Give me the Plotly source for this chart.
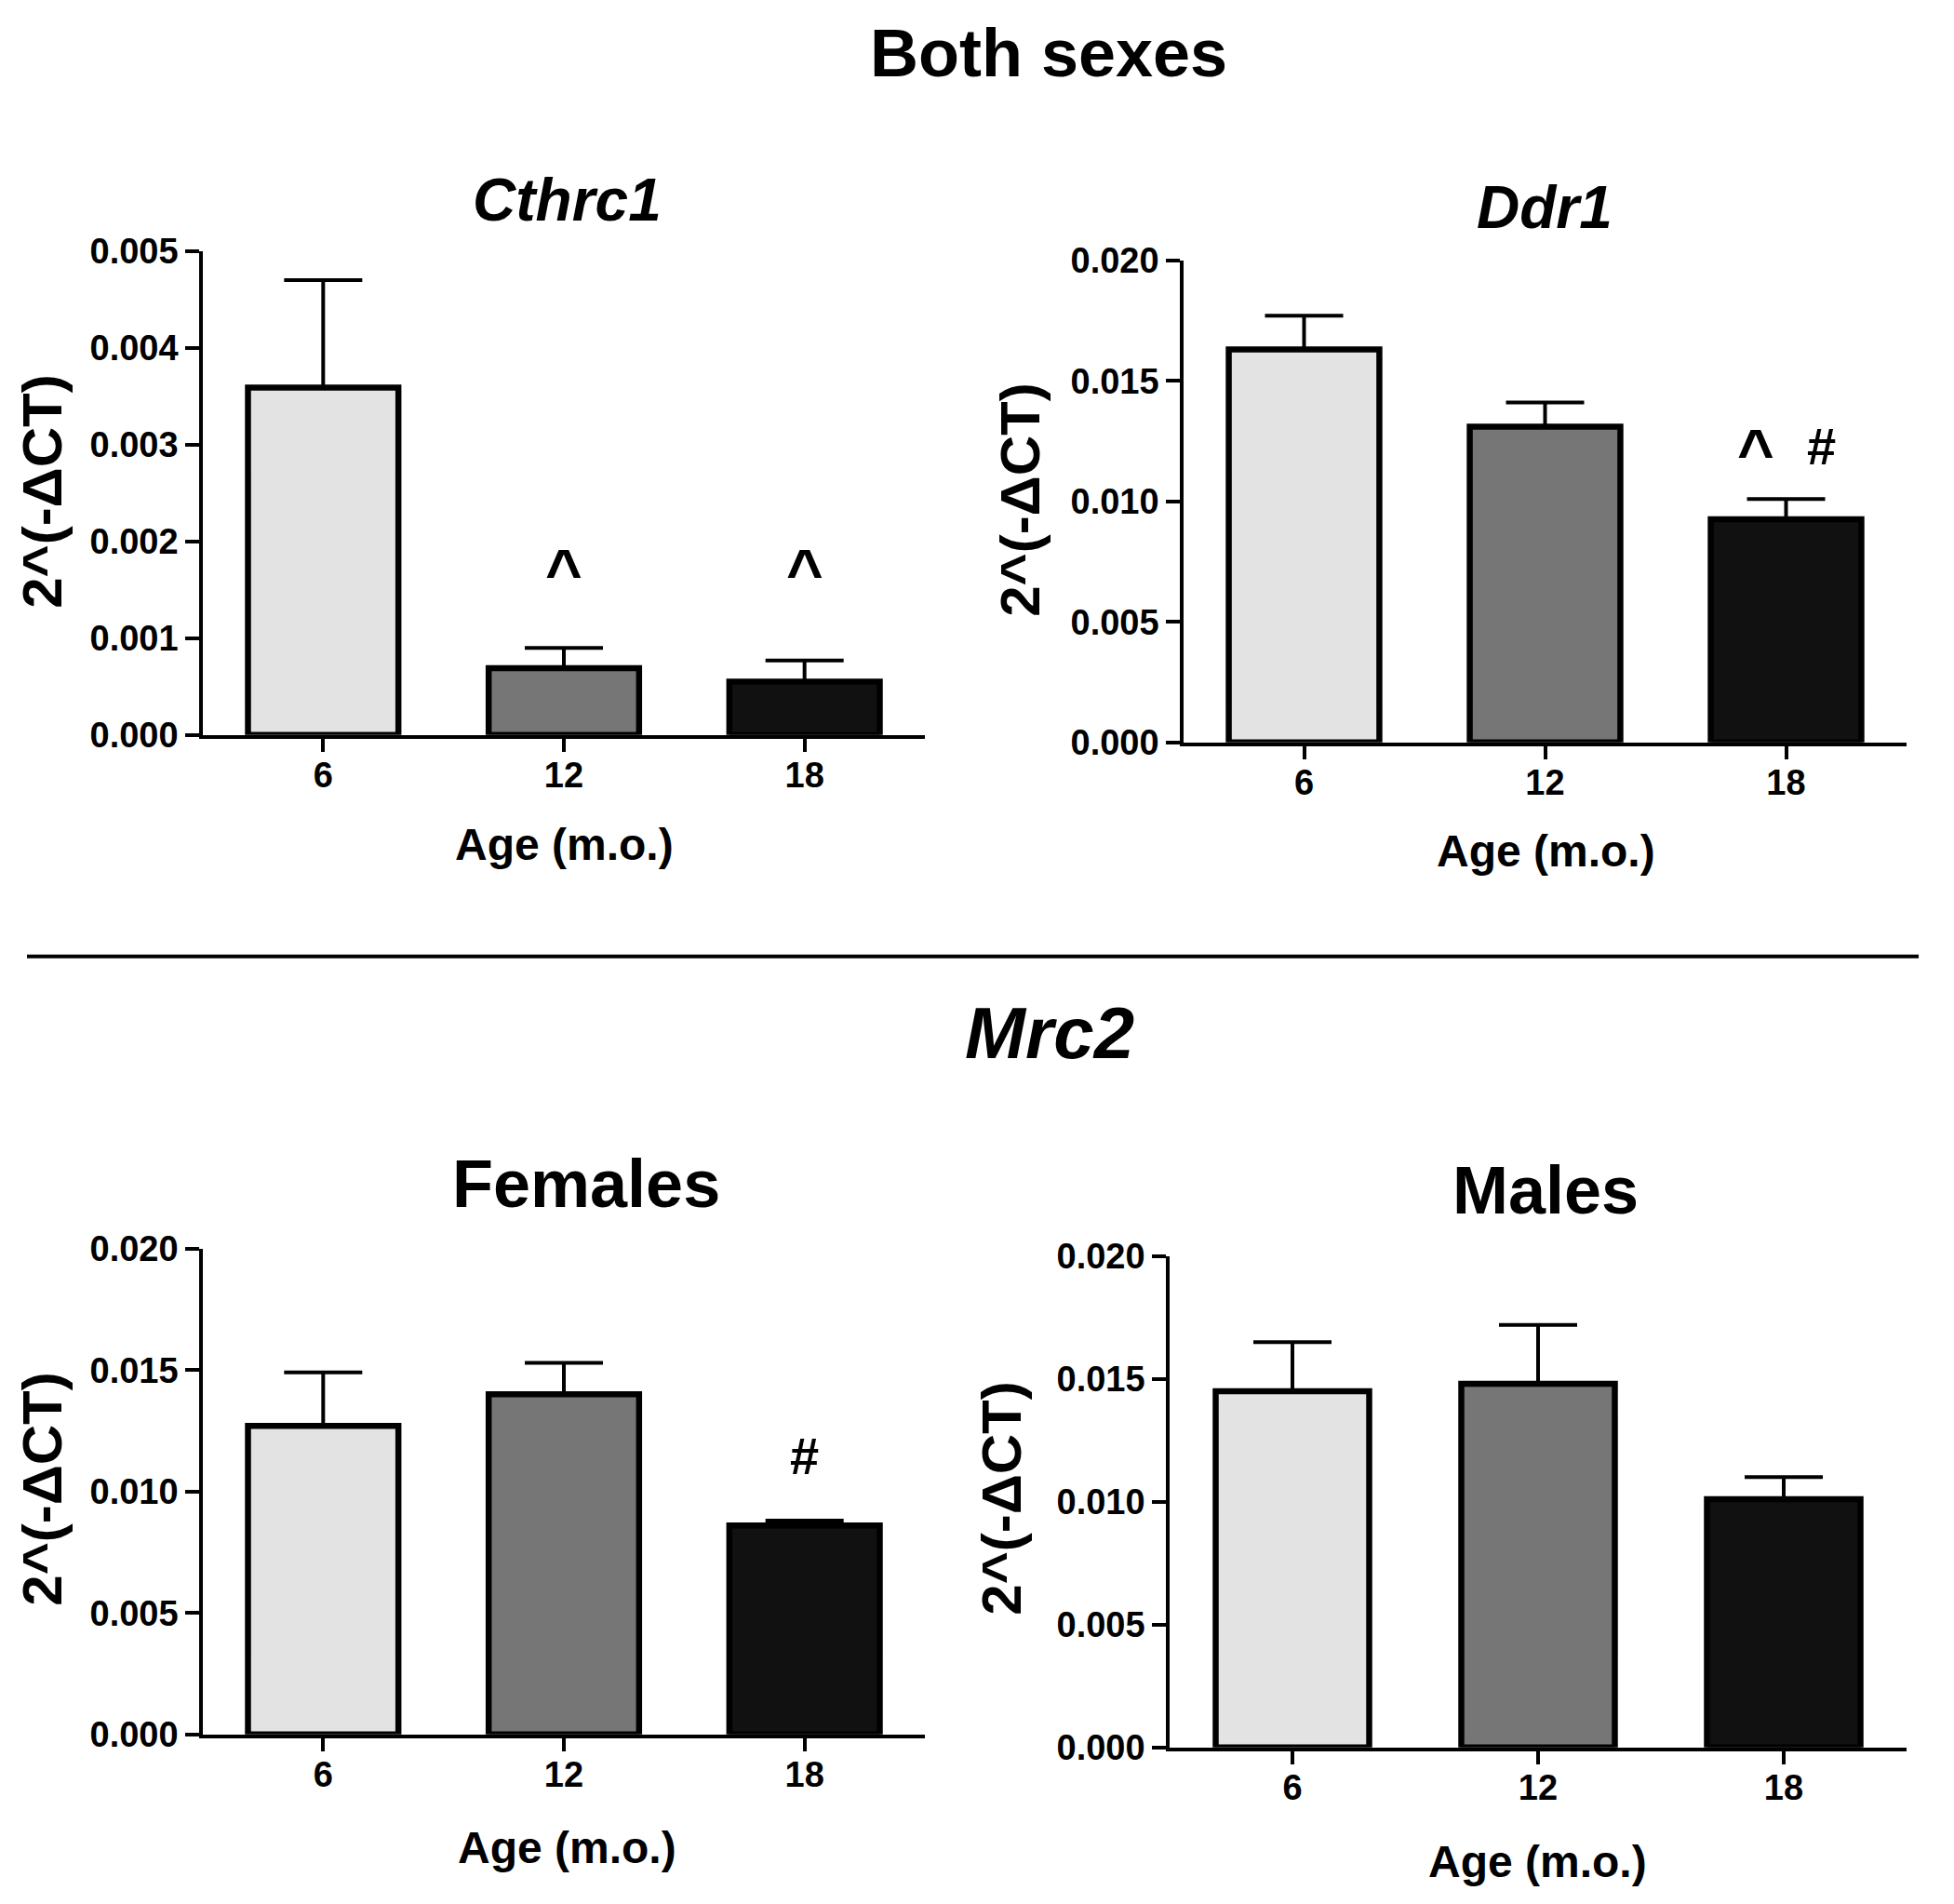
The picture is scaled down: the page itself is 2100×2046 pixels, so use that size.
import plotly.graph_objects as go

# ---------------- data ----------------
ages = ["6", "12", "18"]

cthrc1_mean = [0.00359, 0.00069, 0.00055]
cthrc1_err = [0.00111, 0.00021, 0.00022]

ddr1_mean = [0.0163, 0.0131, 0.00926]
ddr1_err = [0.0014, 0.0010, 0.00084]

fem_mean = [0.0127, 0.0140, 0.0086]
fem_err = [0.0022, 0.0013, 0.0002]

male_mean = [0.0145, 0.0148, 0.0101]
male_err = [0.0020, 0.0024, 0.0009]

bar_colors = ["#e3e3e3", "#767676", "#111111"]

ticks_small = [0.000, 0.001, 0.002, 0.003, 0.004, 0.005]
ticks_big = [0.000, 0.005, 0.010, 0.015, 0.020]

# Figure geometry.  Target positions are given in picture pixels; they are
# converted to paper fractions taking the 8px page margin and the measured
# vertical mapping of the capture (shot_y = 20.4 + 0.9795 * page_y) into account.
OFF = 8
W, H = 2084, 2046
SY_A, SY_S = 20.4, 0.9795
FONT = "Liberation Sans, Arial, sans-serif"

def px_x(v):
    return (v - OFF) / W

def px_y(v):
    fig_y = (v - SY_A) / SY_S - OFF
    return 1 - fig_y / H

panels = [
    dict(x0=218, x1=994, yz=789, yt=269, mean=cthrc1_mean, err=cthrc1_err,
         ymax=0.005, ticks=ticks_small),
    dict(x0=1272, x1=2049, yz=797, yt=279, mean=ddr1_mean, err=ddr1_err,
         ymax=0.020, ticks=ticks_big),
    dict(x0=218, x1=994, yz=1863, yt=1341, mean=fem_mean, err=fem_err,
         ymax=0.020, ticks=ticks_big),
    dict(x0=1257, x1=2049, yz=1877, yt=1349, mean=male_mean, err=male_err,
         ymax=0.020, ticks=ticks_big),
]

fig = go.Figure()
layout_axes = {}
for i, p in enumerate(panels, start=1):
    xa = "x" if i == 1 else f"x{i}"
    ya = "y" if i == 1 else f"y{i}"
    fig.add_trace(go.Bar(
        x=[0, 1, 2], y=p["mean"],
        width=0.625,
        marker=dict(color=bar_colors, line=dict(color="#000000", width=6.5)),
        error_y=dict(type="data", symmetric=False, array=p["err"],
                     arrayminus=[0, 0, 0], color="#000000", thickness=4,
                     width=42),
        xaxis=xa, yaxis=ya, showlegend=False, hoverinfo="skip",
    ))
    xname = "xaxis" if i == 1 else f"xaxis{i}"
    yname = "yaxis" if i == 1 else f"yaxis{i}"
    layout_axes[xname] = dict(
        domain=[px_x(p["x0"]), px_x(p["x1"])],
        anchor=ya, range=[-0.5, 2.5],
        tickmode="array", tickvals=[0, 1, 2], ticktext=ages,
        showline=True, linecolor="#000000", linewidth=3.5,
        ticks="outside", ticklen=15, tickwidth=3.5, tickcolor="#000000",
        tickfont=dict(family=FONT, size=38, color="#000000", weight="bold"),
        showgrid=False, zeroline=False, fixedrange=True,
        ticklabelstandoff=-8,
    )
    layout_axes[yname] = dict(
        domain=[px_y(p["yz"]), px_y(p["yt"])],
        anchor=xa, range=[0, p["ymax"]],
        tickmode="array", tickvals=p["ticks"],
        ticktext=[f"{t:.3f}" for t in p["ticks"]],
        showline=True, linecolor="#000000", linewidth=3.5,
        ticks="outside", ticklen=15, tickwidth=3.5, tickcolor="#000000",
        tickfont=dict(family=FONT, size=38, color="#000000", weight="bold"),
        showgrid=False, zeroline=False, fixedrange=True,
        ticklabelstandoff=0,
    )

annotations = []

def add_text(text, x, y, size, italic=False, angle=0):
    annotations.append(dict(
        text=text, x=px_x(x), y=px_y(y), xref="paper", yref="paper",
        xanchor="center", yanchor="middle", showarrow=False, textangle=angle,
        font=dict(family=FONT, size=size, color="#000000", weight="bold",
                  style="italic" if italic else "normal"),
    ))

add_text("Both sexes", 1127, 56, 72)
add_text("Cthrc1", 609, 214, 64, italic=True)
add_text("Ddr1", 1660, 222, 64, italic=True)
add_text("Mrc2", 1128, 1109, 78, italic=True)
add_text("Females", 630, 1271, 72)
add_text("Males", 1661, 1278, 72)

add_text("Age (m.o.)", 606, 907, 48)
add_text("Age (m.o.)", 1661, 914, 48)
add_text("Age (m.o.)", 609, 1985, 48)
add_text("Age (m.o.)", 1652, 2000, 48)

add_text("2^(-ΔCT)", 46, 528, 60, angle=-90)
add_text("2^(-ΔCT)", 1097, 537, 60, angle=-90)
add_text("2^(-ΔCT)", 46, 1600, 60, angle=-90)
add_text("2^(-ΔCT)", 1077, 1610, 60, angle=-90)

def add_mark(text, xa, ya, xval, yval, size, xshift=0, yshift=0):
    annotations.append(dict(
        text=text, x=xval, y=yval, xref=xa, yref=ya,
        xanchor="center", yanchor="middle", showarrow=False,
        xshift=xshift, yshift=yshift,
        font=dict(family=FONT, size=size, color="#000000", weight="bold"),
    ))

add_mark("^", "x", "y", 1, 0.00175, 68, yshift=-6)
add_mark("^", "x", "y", 2, 0.00175, 68, yshift=-6)
add_mark("^", "x2", "y2", 2, 0.0123, 68, xshift=-33, yshift=-6)
add_mark("#", "x2", "y2", 2, 0.0123, 56, xshift=38)
add_mark("#", "x3", "y3", 2, 0.01146, 56)

fig.update_layout(
    width=W, height=H,
    margin=dict(l=0, r=0, t=0, b=0),
    paper_bgcolor="#ffffff", plot_bgcolor="#ffffff",
    annotations=annotations,
    shapes=[
        dict(type="line", xref="paper", yref="paper",
             x0=px_x(29), x1=px_x(2062), y0=px_y(1027), y1=px_y(1027),
             line=dict(color="#000000", width=4)),
    ],
    font=dict(family=FONT, color="#000000"),
    **layout_axes,
)

fig.write_html("out.html", config={"displayModeBar": False})
